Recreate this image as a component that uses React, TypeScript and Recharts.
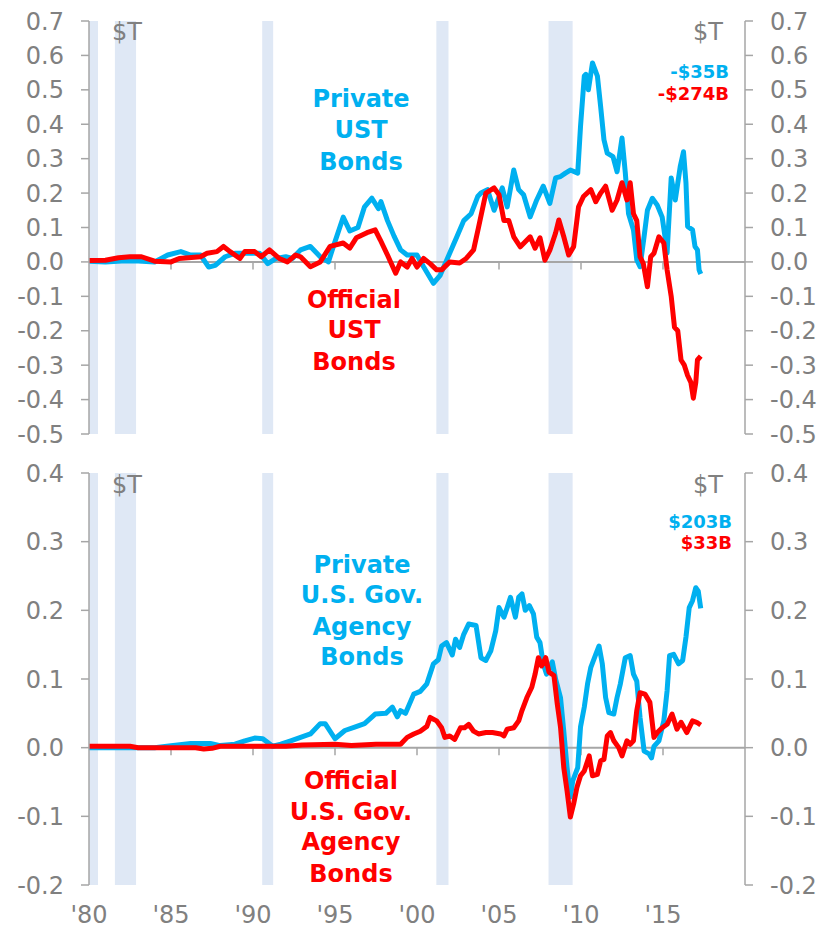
import React from 'react';
import { LineChart, Line, XAxis, YAxis, ReferenceArea, ReferenceLine } from 'recharts';

// ---------- shared axis data ----------
const yearTicks = [1980, 1985, 1990, 1995, 2000, 2005, 2010, 2015];
const recessionStarts = [1980.0, 1981.58, 1990.56, 2001.18, 2008.02];
const recessionEnds = [1980.55, 1982.87, 1991.23, 2001.92, 2009.49];
const ustTicks = [-0.5, -0.4, -0.3, -0.2, -0.1, 0, 0.1, 0.2, 0.3, 0.4, 0.5, 0.6, 0.7];
const agencyTicks = [-0.2, -0.1, 0, 0.1, 0.2, 0.3, 0.4];

// ---------- UST bonds: private ----------
const ustPrivateDates = [
  1980.0, 1981.0, 1982.0, 1983.0, 1984.0, 1984.8, 1985.6, 1986.2, 1986.8, 1987.3, 1987.7, 1988.3, 1988.9,
  1989.8, 1990.4, 1990.9, 1991.4, 1992.0, 1992.4, 1992.9, 1993.5, 1994.1, 1994.6, 1994.9, 1995.5, 1995.9,
  1996.4, 1996.8, 1997.25, 1997.65, 1997.8, 1998.2, 1998.6, 1999.0, 1999.4, 2000.0, 2000.4, 2001.0, 2001.4,
  2001.9, 2002.45, 2002.85, 2003.3, 2003.7, 2003.9, 2004.3, 2004.7, 2005.2, 2005.5, 2005.9, 2006.2, 2006.5,
  2006.9, 2007.3, 2007.7, 2008.1, 2008.45, 2008.75, 2009.05, 2009.35, 2009.8, 2009.97, 2010.2, 2010.3,
  2010.45, 2010.7, 2011.0, 2011.2, 2011.4, 2011.6, 2011.95, 2012.2, 2012.5, 2012.7, 2012.9, 2013.2, 2013.4,
  2013.6, 2013.85, 2014.05, 2014.35, 2014.65, 2014.95, 2015.15, 2015.25, 2015.5, 2015.75, 2016.05, 2016.25,
  2016.4, 2016.5, 2016.8, 2016.95, 2017.1, 2017.2, 2017.3,
];
const ustPrivateValues = [
  0.002, 0.0, 0.003, 0.003, 0.0, 0.02, 0.03, 0.02, 0.02, -0.015, -0.01, 0.015, 0.025,
  0.025, 0.025, -0.005, 0.01, 0.015, 0.01, 0.035, 0.045, 0.015, 0.0, 0.045, 0.13, 0.09,
  0.1, 0.16, 0.185, 0.155, 0.175, 0.12, 0.075, 0.035, 0.02, 0.02, -0.014, -0.062, -0.04,
  0.015, 0.075, 0.12, 0.14, 0.19, 0.2, 0.21, 0.15, 0.215, 0.16, 0.267, 0.21, 0.195,
  0.131, 0.18, 0.22, 0.17, 0.244, 0.248, 0.258, 0.267, 0.258, 0.393, 0.54, 0.545,
  0.5, 0.578, 0.54, 0.45, 0.355, 0.316, 0.306, 0.262, 0.36, 0.26, 0.14, 0.093, 0.006,
  -0.014, 0.075, 0.15, 0.185, 0.165, 0.13, 0.064, 0.026, 0.244, 0.18, 0.277, 0.32,
  0.23, 0.103, 0.093, 0.045, 0.035, -0.023, -0.035,
];

// ---------- UST bonds: official ----------
const ustOfficialDates = [
  1980.0, 1981.0, 1981.8, 1982.5, 1983.2, 1984.0, 1985.0, 1985.5, 1986.8, 1987.2, 1987.8, 1988.2, 1988.6,
  1989.2, 1989.5, 1990.1, 1990.5, 1991.0, 1991.6, 1992.1, 1992.6, 1992.9, 1993.5, 1994.1, 1994.7, 1995.5,
  1995.9, 1996.3, 1996.95, 1997.45, 1997.75, 1998.2, 1998.7, 1999.0, 1999.4, 1999.7, 2000.0, 2000.4, 2000.8,
  2001.2, 2001.5, 2002.0, 2002.6, 2003.0, 2003.45, 2003.75, 2004.2, 2004.7, 2005.0, 2005.3, 2005.6, 2005.9,
  2006.3, 2006.9, 2007.2, 2007.5, 2007.8, 2008.1, 2008.45, 2008.65, 2008.95, 2009.25, 2009.55, 2009.85,
  2010.15, 2010.6, 2010.9, 2011.2, 2011.5, 2011.9, 2012.2, 2012.5, 2012.8, 2013.0, 2013.2, 2013.4, 2013.6,
  2013.8, 2014.05, 2014.25, 2014.45, 2014.75, 2015.05, 2015.25, 2015.5, 2015.7, 2015.9, 2016.1, 2016.3,
  2016.5, 2016.7, 2016.85, 2017.0, 2017.1, 2017.3,
];
const ustOfficialValues = [
  0.004, 0.005, 0.012, 0.015, 0.015, 0.002, 0.0, 0.01, 0.015, 0.025, 0.03, 0.045, 0.03,
  0.01, 0.03, 0.03, 0.015, 0.035, 0.01, 0.0, 0.02, 0.015, -0.014, 0.0, 0.045, 0.055,
  0.04, 0.07, 0.085, 0.093, 0.065, 0.02, -0.033, 0.0, -0.015, 0.01, -0.015, 0.01, -0.005,
  -0.023, -0.023, 0.0, -0.003, 0.01, 0.035, 0.1, 0.2, 0.215, 0.195, 0.12, 0.12, 0.073,
  0.044, 0.073, 0.04, 0.07, 0.005, 0.034, 0.084, 0.122, 0.073, 0.02, 0.044, 0.16,
  0.19, 0.21, 0.175, 0.2, 0.22, 0.15, 0.18, 0.23, 0.18, 0.23, 0.14, 0.12, 0.015,
  -0.005, -0.072, 0.015, 0.025, 0.073, 0.055, -0.023, -0.1, -0.19, -0.2, -0.285, -0.3,
  -0.33, -0.35, -0.396, -0.35, -0.285, -0.274,
];

// ---------- Agency bonds: private ----------
const agencyPrivateDates = [
  1980.0, 1984.0, 1985.0, 1986.2, 1987.4, 1988.0, 1988.9, 1989.5, 1990.1, 1990.6, 1991.2, 1991.7, 1992.3,
  1992.9, 1993.5, 1994.1, 1994.4, 1995.0, 1995.6, 1996.2, 1996.8, 1997.45, 1998.1, 1998.5, 1998.8, 1999.0,
  1999.3, 1999.8, 2000.2, 2000.6, 2001.0, 2001.3, 2001.5, 2001.8, 2002.15, 2002.35, 2002.6, 2002.85, 2003.15,
  2003.6, 2003.9, 2004.2, 2004.5, 2004.8, 2005.0, 2005.3, 2005.5, 2005.7, 2006.0, 2006.2, 2006.4, 2006.6,
  2006.85, 2007.1, 2007.3, 2007.5, 2007.7, 2007.9, 2008.25, 2008.45, 2008.75, 2008.95, 2009.15, 2009.35,
  2009.5, 2009.8, 2009.97, 2010.2, 2010.4, 2010.6, 2010.9, 2011.1, 2011.3, 2011.5, 2011.7, 2012.0, 2012.2,
  2012.4, 2012.7, 2013.0, 2013.2, 2013.4, 2013.6, 2013.85, 2014.15, 2014.3, 2014.45, 2014.75, 2015.05,
  2015.25, 2015.4, 2015.65, 2015.95, 2016.2, 2016.4, 2016.6, 2016.8, 2017.0, 2017.15, 2017.3,
];
const agencyPrivateValues = [
  0.0, 0.0, 0.003, 0.006, 0.006, 0.003, 0.005, 0.01, 0.014, 0.013, 0.002, 0.005, 0.01,
  0.015, 0.02, 0.035, 0.035, 0.013, 0.025, 0.03, 0.035, 0.049, 0.05, 0.059, 0.045, 0.054,
  0.05, 0.078, 0.082, 0.093, 0.122, 0.128, 0.148, 0.153, 0.135, 0.158, 0.146, 0.165, 0.18,
  0.178, 0.131, 0.127, 0.141, 0.17, 0.204, 0.19, 0.204, 0.219, 0.19, 0.219, 0.224, 0.2,
  0.207, 0.195, 0.161, 0.153, 0.122, 0.107, 0.125, 0.1, 0.073, 0.024, -0.029, -0.072,
  -0.048, -0.029, 0.03, 0.059, 0.093, 0.117, 0.136, 0.148, 0.122, 0.073, 0.051, 0.049, 0.073,
  0.093, 0.131, 0.134, 0.107, 0.097, 0.044, -0.005, -0.009, -0.015, 0.002, 0.01, 0.039,
  0.083, 0.134, 0.136, 0.122, 0.127, 0.161, 0.204, 0.214, 0.233, 0.228, 0.203,
];

// ---------- Agency bonds: official ----------
const agencyOfficialDates = [
  1980.0, 1982.5, 1983.0, 1986.5, 1987.0, 1987.5, 1988.0, 1992.0, 1993.0, 1995.0, 1996.0, 1997.5, 1999.0,
  1999.4, 1999.8, 2000.2, 2000.6, 2000.8, 2001.2, 2001.5, 2001.7, 2002.0, 2002.3, 2002.65, 2002.9, 2003.15,
  2003.45, 2003.75, 2004.2, 2004.6, 2005.1, 2005.3, 2005.5, 2005.9, 2006.2, 2006.4, 2006.7, 2007.0, 2007.2,
  2007.4, 2007.6, 2007.85, 2008.05, 2008.35, 2008.55, 2008.75, 2008.95, 2009.15, 2009.35, 2009.55, 2009.75,
  2009.97, 2010.2, 2010.5, 2010.7, 2011.0, 2011.2, 2011.4, 2011.6, 2011.8, 2012.0, 2012.3, 2012.5, 2012.8,
  2013.0, 2013.2, 2013.4, 2013.6, 2013.9, 2014.2, 2014.45, 2014.65, 2014.95, 2015.25, 2015.55, 2015.85,
  2016.1, 2016.45, 2016.8, 2017.05, 2017.3,
];
const agencyOfficialValues = [
  0.002, 0.002, 0.0, 0.0, -0.002, -0.001, 0.002, 0.002, 0.004, 0.005, 0.003, 0.005, 0.005,
  0.015, 0.02, 0.024, 0.031, 0.044, 0.039, 0.029, 0.015, 0.017, 0.012, 0.029, 0.029, 0.034,
  0.024, 0.02, 0.022, 0.022, 0.02, 0.017, 0.027, 0.029, 0.039, 0.054, 0.073, 0.088, 0.107,
  0.131, 0.119, 0.131, 0.11, 0.105, 0.064, 0.03, -0.029, -0.063, -0.101, -0.082, -0.058,
  -0.041, -0.034, -0.012, -0.041, -0.039, -0.019, -0.017, 0.017, 0.022, 0.01, 0.0, -0.012, 0.01,
  0.005, 0.01, 0.054, 0.08, 0.078, 0.066, 0.015, 0.022, 0.029, 0.034, 0.049, 0.027,
  0.037, 0.022, 0.039, 0.037, 0.033,
];

const BLUE = '#00b0f0';
const RED = '#ff0000';
const GRAY_LINE = '#a6a6a6';
const GRAY_TEXT = '#808080';
const BAND = '#dfe8f5';
const FONT = '"DejaVu Sans", Verdana, sans-serif';

const toPoints = (dates: number[], values: number[]) => dates.map((t, i) => ({ t, v: values[i] }));

const tickStyle = { fontSize: 24, fill: GRAY_TEXT, fontFamily: FONT };
const fmtY = (v: number) => (Math.abs(v) < 1e-9 ? '0.0' : v.toFixed(1));
const fmtX = (v: number) => "'" + String(v).slice(2);

type PanelProps = {
  height: number;
  marginTop: number;
  marginBottom: number;
  domain: [number, number];
  ticks: number[];
  tickDepth: number;
  showXLabels: boolean;
  privateData: { t: number; v: number }[];
  officialData: { t: number; v: number }[];
};

function Panel(p: PanelProps) {
  return (
    <LineChart
      width={823}
      height={p.height}
      margin={{ top: p.marginTop, right: 0, bottom: p.marginBottom, left: 0 }}
    >
      <XAxis
        type="number"
        dataKey="t"
        domain={[1980, 2020]}
        ticks={yearTicks}
        interval={0}
        allowDataOverflow
        hide={!p.showXLabels}
        axisLine={false}
        tickLine={false}
        tickSize={0}
        tickMargin={21}
        height={44}
        tick={tickStyle}
        tickFormatter={fmtX}
      />
      <YAxis
        yAxisId="left"
        type="number"
        domain={p.domain}
        ticks={p.ticks}
        interval={0}
        allowDataOverflow
        width={89}
        tickSize={8}
        tickMargin={17}
        axisLine={{ stroke: GRAY_LINE, strokeWidth: 1.5 }}
        tickLine={{ stroke: GRAY_LINE, strokeWidth: 1.5 }}
        tick={tickStyle}
        tickFormatter={fmtY}
      />
      <YAxis
        yAxisId="right"
        orientation="right"
        type="number"
        domain={p.domain}
        ticks={p.ticks}
        interval={0}
        allowDataOverflow
        width={78}
        tickSize={8}
        tickMargin={17}
        axisLine={{ stroke: GRAY_LINE, strokeWidth: 1.5 }}
        tickLine={{ stroke: GRAY_LINE, strokeWidth: 1.5 }}
        tick={{ ...tickStyle, textAnchor: 'start' }}
        tickFormatter={fmtY}
      />
      {recessionStarts.map((s, i) => (
        <ReferenceArea
          key={'r' + i}
          yAxisId="left"
          x1={s}
          x2={recessionEnds[i]}
          fill={BAND}
          fillOpacity={1}
          stroke="none"
        />
      ))}
      <ReferenceLine yAxisId="left" y={0} stroke={GRAY_LINE} strokeWidth={2} />
      {yearTicks.slice(1).map((yr) => (
        <ReferenceLine
          key={'tk' + yr}
          yAxisId="left"
          segment={[
            { x: yr, y: 0 },
            { x: yr, y: -p.tickDepth },
          ]}
          stroke={GRAY_LINE}
          strokeWidth={1.5}
          ifOverflow="visible"
        />
      ))}
      <Line
        yAxisId="left"
        data={p.privateData}
        dataKey="v"
        type="linear"
        stroke={BLUE}
        strokeWidth={5}
        dot={false}
        strokeLinejoin="round"
        isAnimationActive={false}
      />
      <Line
        yAxisId="left"
        data={p.officialData}
        dataKey="v"
        type="linear"
        stroke={RED}
        strokeWidth={5}
        dot={false}
        strokeLinejoin="round"
        isAnimationActive={false}
      />
    </LineChart>
  );
}

const bigText = { fontFamily: FONT, fontWeight: 700, fontSize: 24 };
const smallBold = { fontFamily: FONT, fontWeight: 700, fontSize: 18 };
const unitText = { fontFamily: FONT, fontSize: 24, fill: GRAY_TEXT };

export default function App() {
  return (
    <div style={{ position: 'absolute', left: 0, top: 0, width: 823, height: 929, background: '#fff' }}>
      <div style={{ position: 'absolute', left: 0, top: 0 }}>
        <Panel
          height={450}
          marginTop={21}
          marginBottom={16}
          domain={[-0.5, 0.7]}
          ticks={ustTicks}
          tickDepth={0.022}
          showXLabels={false}
          privateData={toPoints(ustPrivateDates, ustPrivateValues)}
          officialData={toPoints(ustOfficialDates, ustOfficialValues)}
        />
      </div>
      <div style={{ position: 'absolute', left: 0, top: 450 }}>
        <Panel
          height={479}
          marginTop={23}
          marginBottom={0}
          domain={[-0.2, 0.4]}
          ticks={agencyTicks}
          tickDepth={0.011}
          showXLabels={true}
          privateData={toPoints(agencyPrivateDates, agencyPrivateValues)}
          officialData={toPoints(agencyOfficialDates, agencyOfficialValues)}
        />
      </div>
      <svg
        width={823}
        height={929}
        style={{ position: 'absolute', left: 0, top: 0, pointerEvents: 'none' }}
      >
        {/* top panel */}
        <text x={112} y={40} {...unitText}>$T</text>
        <text x={723} y={40} textAnchor="end" {...unitText}>$T</text>
        <text x={729} y={78} textAnchor="end" fill={BLUE} {...smallBold}>-$35B</text>
        <text x={729} y={100} textAnchor="end" fill={RED} {...smallBold}>-$274B</text>
        <text textAnchor="middle" fill={BLUE} {...bigText}>
          <tspan x={361} y={107}>Private</tspan>
          <tspan x={361} y={138}>UST</tspan>
          <tspan x={361} y={170}>Bonds</tspan>
        </text>
        <text textAnchor="middle" fill={RED} {...bigText}>
          <tspan x={354} y={308}>Official</tspan>
          <tspan x={354} y={338}>UST</tspan>
          <tspan x={354} y={370}>Bonds</tspan>
        </text>
        {/* bottom panel */}
        <text x={112} y={493} {...unitText}>$T</text>
        <text x={723} y={493} textAnchor="end" {...unitText}>$T</text>
        <text x={732} y={528} textAnchor="end" fill={BLUE} {...smallBold}>$203B</text>
        <text x={732} y={549} textAnchor="end" fill={RED} {...smallBold}>$33B</text>
        <text textAnchor="middle" fill={BLUE} {...bigText}>
          <tspan x={362} y={573}>Private</tspan>
          <tspan x={362} y={603}>U.S. Gov.</tspan>
          <tspan x={362} y={635}>Agency</tspan>
          <tspan x={362} y={665}>Bonds</tspan>
        </text>
        <text textAnchor="middle" fill={RED} {...bigText}>
          <tspan x={351} y={789}>Official</tspan>
          <tspan x={351} y={820}>U.S. Gov.</tspan>
          <tspan x={351} y={850}>Agency</tspan>
          <tspan x={351} y={882}>Bonds</tspan>
        </text>
      </svg>
    </div>
  );
}
